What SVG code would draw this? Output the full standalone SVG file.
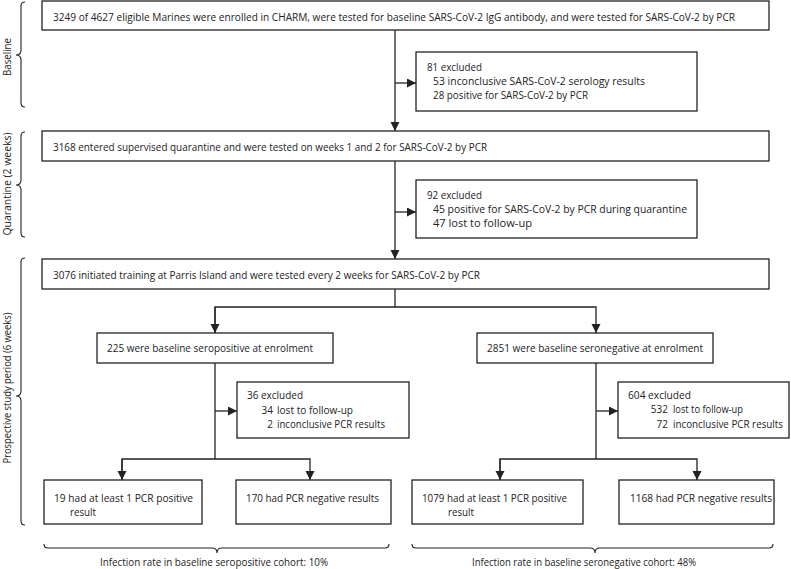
<svg xmlns="http://www.w3.org/2000/svg" width="791" height="569" viewBox="0 0 791 569">
<defs>
<style>
.box{fill:#fff;stroke:#222;stroke-width:1.3}
.t{font-family:"Open Sans","Noto Sans","DejaVu Sans",sans-serif;font-size:10px;fill:#222}
.c{fill:none;stroke:#222;stroke-width:1.3}
.br{fill:none;stroke:#222;stroke-width:1.1}
</style>
<marker id="arr" markerUnits="userSpaceOnUse" markerWidth="10" markerHeight="10" refX="9" refY="4.5" orient="auto">
<path d="M0,0 L9,4.5 L0,9 z" fill="#222"/>
</marker>
</defs>
<rect width="791" height="569" fill="#fff"/>

<g id="phase-labels">
<path class="br" d="M25,2 Q21,2 21,6 L21,50 Q21,55 16,55 Q21,55 21,60 L21,103 Q21,107 25,107"/>
<text class="t" transform="translate(10.5,57) rotate(-90)" text-anchor="middle" textLength="38" lengthAdjust="spacingAndGlyphs">Baseline</text>
<path class="br" d="M25,132 Q21,132 21,136 L21,180 Q21,185 16,185 Q21,185 21,190 L21,233 Q21,237 25,237"/>
<text class="t" transform="translate(10.5,184) rotate(-90)" text-anchor="middle" textLength="103" lengthAdjust="spacingAndGlyphs">Quarantine (2 weeks)</text>
<path class="br" d="M25,258 Q21,258 21,262 L21,391 Q21,396 16,396 Q21,396 21,401 L21,521 Q21,525 25,525"/>
<text class="t" transform="translate(10.5,388) rotate(-90)" text-anchor="middle" textLength="151" lengthAdjust="spacingAndGlyphs">Prospective study period (6 weeks)</text>
</g>

<g id="connectors">
<line class="c" x1="395" y1="30" x2="395" y2="131" marker-end="url(#arr)"/>
<line class="c" x1="395" y1="83" x2="416" y2="83" marker-end="url(#arr)"/>
<line class="c" x1="395" y1="161" x2="395" y2="259" marker-end="url(#arr)"/>
<line class="c" x1="395" y1="212" x2="416" y2="212" marker-end="url(#arr)"/>
<line class="c" x1="395" y1="289" x2="395" y2="307"/>
<polyline class="c" points="215,333 215,307 596,307 596,333" marker-end="url(#arr)"/>
<line class="c" x1="215" y1="307" x2="215" y2="333" marker-end="url(#arr)"/>
<line class="c" x1="215" y1="363" x2="215" y2="459"/>
<line class="c" x1="215" y1="411" x2="237" y2="411" marker-end="url(#arr)"/>
<polyline class="c" points="122,480 122,459 310,459 310,480" marker-end="url(#arr)"/>
<line class="c" x1="122" y1="459" x2="122" y2="480" marker-end="url(#arr)"/>
<line class="c" x1="596" y1="363" x2="596" y2="459"/>
<line class="c" x1="596" y1="411" x2="618" y2="411" marker-end="url(#arr)"/>
<polyline class="c" points="500,480 500,459 697,459 697,480" marker-end="url(#arr)"/>
<line class="c" x1="500" y1="459" x2="500" y2="480" marker-end="url(#arr)"/>
</g>

<g id="n-enrolled">
<rect class="box" x="42" y="1" width="727" height="29"/>
<text class="t" x="53" y="20.5" textLength="682" lengthAdjust="spacingAndGlyphs">3249 of 4627 eligible Marines were enrolled in CHARM, were tested for baseline SARS-CoV-2 IgG antibody, and were tested for SARS-CoV-2 by PCR</text>
</g>

<g id="n-excl81">
<rect class="box" x="416" y="52" width="281" height="59"/>
<text class="t" x="427" y="71" textLength="55" lengthAdjust="spacingAndGlyphs">81 excluded</text>
<text class="t" x="433" y="85" textLength="212" lengthAdjust="spacingAndGlyphs">53 inconclusive SARS-CoV-2 serology results</text>
<text class="t" x="433" y="99" textLength="155" lengthAdjust="spacingAndGlyphs">28 positive for SARS-CoV-2 by PCR</text>
</g>

<g id="n-quarantine">
<rect class="box" x="42" y="131" width="727" height="30"/>
<text class="t" x="53" y="150.5" textLength="434" lengthAdjust="spacingAndGlyphs">3168 entered supervised quarantine and were tested on weeks 1 and 2 for SARS-CoV-2 by PCR</text>
</g>

<g id="n-excl92">
<rect class="box" x="416" y="180" width="281" height="58"/>
<text class="t" x="427" y="198.5" textLength="55" lengthAdjust="spacingAndGlyphs">92 excluded</text>
<text class="t" x="433" y="213" textLength="254" lengthAdjust="spacingAndGlyphs">45 positive for SARS-CoV-2 by PCR during quarantine</text>
<text class="t" x="433" y="227" textLength="99" lengthAdjust="spacingAndGlyphs">47 lost to follow-up</text>
</g>

<g id="n-training">
<rect class="box" x="42" y="259" width="727" height="30"/>
<text class="t" x="53" y="278.5" textLength="427" lengthAdjust="spacingAndGlyphs">3076 initiated training at Parris Island and were tested every 2 weeks for SARS-CoV-2 by PCR</text>
</g>

<g id="n-seropos">
<rect class="box" x="97" y="333" width="236" height="30"/>
<text class="t" x="107" y="352" textLength="206" lengthAdjust="spacingAndGlyphs">225 were baseline seropositive at enrolment</text>
</g>

<g id="n-seroneg">
<rect class="box" x="477" y="333" width="236" height="30"/>
<text class="t" x="487" y="352" textLength="216" lengthAdjust="spacingAndGlyphs">2851 were baseline seronegative at enrolment</text>
</g>

<g id="n-excl36">
<rect class="box" x="237" y="382" width="172" height="56"/>
<text class="t" x="247" y="399" textLength="56" lengthAdjust="spacingAndGlyphs">36 excluded</text>
<text class="t" x="273" y="414" text-anchor="end">34</text>
<text class="t" x="277" y="414" textLength="76" lengthAdjust="spacingAndGlyphs">lost to follow-up</text>
<text class="t" x="273" y="428" text-anchor="end">2</text>
<text class="t" x="277" y="428" textLength="108" lengthAdjust="spacingAndGlyphs">inconclusive PCR results</text>
</g>

<g id="n-excl604">
<rect class="box" x="618" y="382" width="171" height="56"/>
<text class="t" x="628" y="398.5" textLength="63" lengthAdjust="spacingAndGlyphs">604 excluded</text>
<text class="t" x="668" y="413" text-anchor="end">532</text>
<text class="t" x="673" y="413" textLength="70" lengthAdjust="spacingAndGlyphs">lost to follow-up</text>
<text class="t" x="668" y="428" text-anchor="end">72</text>
<text class="t" x="673" y="428" textLength="110" lengthAdjust="spacingAndGlyphs">inconclusive PCR results</text>
</g>

<g id="n-pos19">
<rect class="box" x="44" y="480" width="158" height="44"/>
<text class="t" x="54" y="501.5" textLength="139" lengthAdjust="spacingAndGlyphs">19 had at least 1 PCR positive</text>
<text class="t" x="70" y="516" textLength="26" lengthAdjust="spacingAndGlyphs">result</text>
</g>

<g id="n-neg170">
<rect class="box" x="236" y="480" width="155" height="44"/>
<text class="t" x="246" y="501.5" textLength="133" lengthAdjust="spacingAndGlyphs">170 had PCR negative results</text>
</g>

<g id="n-pos1079">
<rect class="box" x="412" y="480" width="171" height="44"/>
<text class="t" x="422" y="501.5" textLength="145" lengthAdjust="spacingAndGlyphs">1079 had at least 1 PCR positive</text>
<text class="t" x="448" y="516" textLength="26" lengthAdjust="spacingAndGlyphs">result</text>
</g>

<g id="n-neg1168">
<rect class="box" x="619" y="480" width="155" height="44"/>
<text class="t" x="630" y="501.5" textLength="142" lengthAdjust="spacingAndGlyphs">1168 had PCR negative results</text>
</g>

<g id="rate-pos">
<path class="br" d="M44,544 Q44,548 48,548 L212,548 Q217,548 217,553 Q217,548 222,548 L385,548 Q389,548 389,544"/>
<text class="t" x="214" y="566" text-anchor="middle" textLength="228" lengthAdjust="spacingAndGlyphs">Infection rate in baseline seropositive cohort: 10%</text>
</g>

<g id="rate-neg">
<path class="br" d="M412,544 Q412,548 416,548 L590,548 Q595,548 595,553 Q595,548 600,548 L769,548 Q773,548 773,544"/>
<text class="t" x="584" y="566" text-anchor="middle" textLength="224" lengthAdjust="spacingAndGlyphs">Infection rate in baseline seronegative cohort: 48%</text>
</g>
</svg>
